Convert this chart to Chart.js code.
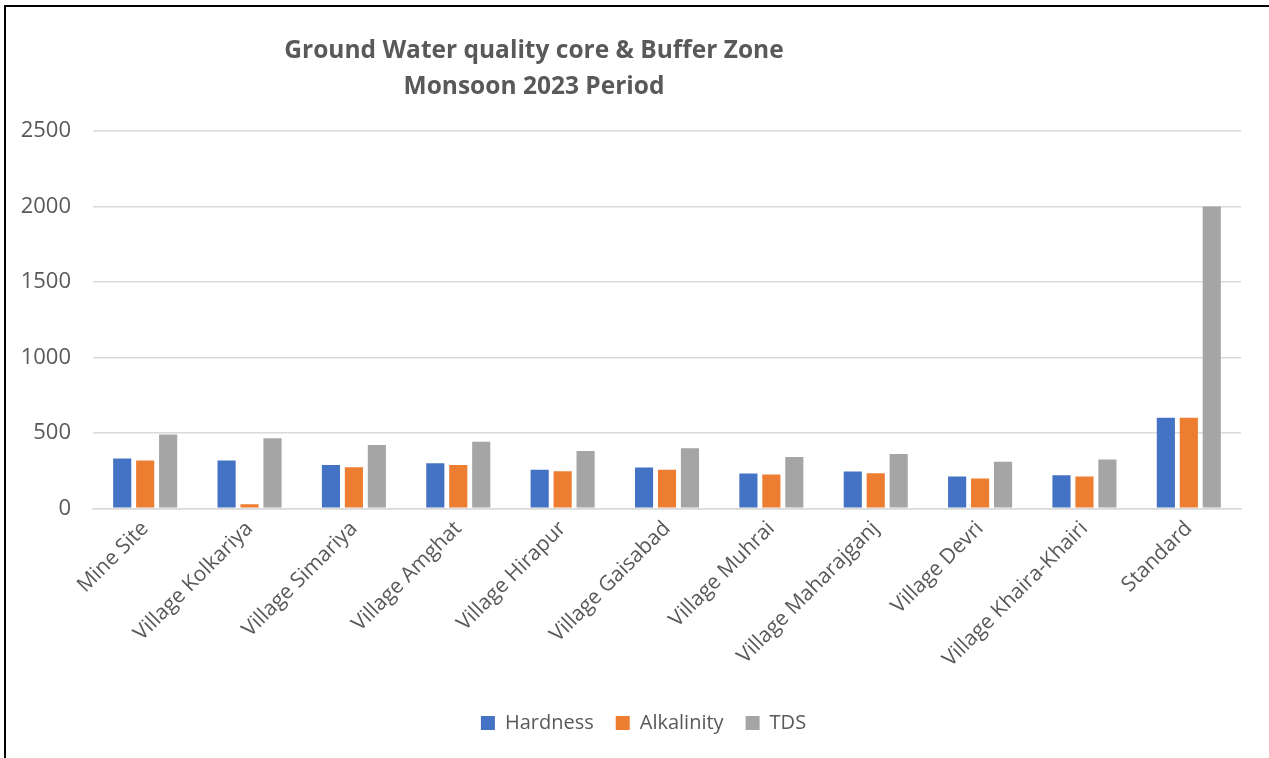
<!DOCTYPE html>
<html>
<head>
<meta charset="utf-8">
<script src="https://cdn.jsdelivr.net/npm/chart.js@4.4.0/dist/chart.umd.min.js"></script>
<style>
  html, body { margin: 0; padding: 0; background: #fff; }
  #wrap { position: relative; width: 1269px; height: 758px; overflow: hidden; }
  #frame { position: absolute; left: 4px; top: 5px; right: -10px; bottom: -10px; border-left: 2px solid #000; border-top: 2px solid #000; pointer-events: none; }
  canvas { position: absolute; left: 0; top: 0; }
</style>
</head>
<body>
<div id="wrap">
  <canvas id="c" width="1269" height="758"></canvas>
  <div id="frame"></div>
</div>
<script>
const categories = ["Mine Site", "Village Kolkariya", "Village Simariya", "Village Amghat", "Village Hirapur", "Village Gaisabad", "Village Muhrai", "Village Maharajganj", "Village Devri", "Village Khaira-Khairi", "Standard"];
const hardness   = [330, 317, 286, 299, 256, 270, 230, 243, 210, 219, 600];
const alkalinity = [317, 27, 272, 286, 245, 256, 223, 232, 198, 210, 600];
const tds        = [488, 464, 419, 440, 379, 397, 339, 359, 308, 323, 2000];
const yTicks     = [0, 500, 1000, 1500, 2000, 2500];
const titleLines = ["Ground Water quality core & Buffer Zone", "Monsoon 2023 Period"];

const FONT = "'Open Sans', sans-serif";
const GREY = "#595959";

const titlePlugin = {
  id: 'customTitle',
  afterLayout(chart) {
    if (chart.legend) { chart.legend.left += 42; }
  },
  afterDraw(chart) {
    const ctx = chart.ctx;
    ctx.save();
    ctx.font = "bold 24.5px " + FONT;
    ctx.fillStyle = GREY;
    ctx.textAlign = "center";
    ctx.textBaseline = "middle";
    ctx.fillText(titleLines[0], 534, 51);
    ctx.fillText(titleLines[1], 534, 87);
    ctx.restore();
  }
};

new Chart(document.getElementById('c'), {
  type: 'bar',
  data: {
    labels: categories,
    datasets: [
      { label: 'Hardness', data: hardness, backgroundColor: '#4472C4' },
      { label: 'Alkalinity', data: alkalinity, backgroundColor: '#ED7D31' },
      { label: 'TDS', data: tds, backgroundColor: '#A5A5A5' }
    ]
  },
  options: {
    responsive: false,
    animation: false,
    devicePixelRatio: 1,
    layout: { padding: { top: 131, left: 4, right: 28, bottom: 15 } },
    datasets: { bar: { categoryPercentage: 0.66, barPercentage: 0.79 } },
    scales: {
      x: {
        grid: { display: false, drawTicks: false },
        border: { display: true, color: '#D9D9D9', width: 1.5 },
        ticks: { color: GREY, font: { family: FONT, size: 21 }, minRotation: 45, maxRotation: 45, padding: 8, autoSkip: false },
        afterFit(axis) { axis.height += 11; }
      },
      y: {
        min: 0, max: 2500,
        afterBuildTicks(axis) { axis.ticks = yTicks.map(v => ({ value: v })); },
        grid: { color: '#D9D9D9', lineWidth: 1.5, drawTicks: false },
        border: { display: false },
        ticks: { color: GREY, font: { family: FONT, size: 22 }, padding: 22, callback: v => String(v) },
        afterFit(axis) { axis.width = 89; }
      }
    },
    plugins: {
      legend: {
        position: 'bottom',
        labels: { color: GREY, font: { family: FONT, size: 20 }, boxWidth: 14, boxHeight: 14, padding: 22 }
      },
      title: { display: false },
      tooltip: { enabled: false }
    }
  },
  plugins: [titlePlugin]
});
</script>
</body>
</html>
